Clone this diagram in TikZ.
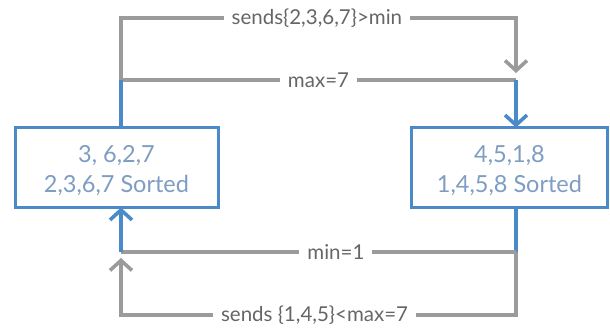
\documentclass[tikz,border=0pt]{standalone}
\usepackage{fontspec}
\setmainfont{Lato}
\usetikzlibrary{arrows.meta}
\definecolor{lineblue}{HTML}{4A8AC8}
\definecolor{linegray}{HTML}{9B9B9B}
\definecolor{labgray}{HTML}{666666}
\definecolor{boxtext}{HTML}{7E9DC2}
\begin{document}
\begin{tikzpicture}[x=1pt,y=-1pt,
  box/.style={draw=lineblue, line width=3pt, fill=white, inner sep=0pt},
  boxlabel/.style={align=center, text=boxtext, font=\fontsize{23.5}{30}\selectfont, inner sep=0pt},
  lbl/.style={fill=white, text=labgray, font=\fontsize{20.5}{24}\selectfont, inner xsep=8pt, inner ysep=1pt},
  gline/.style={draw=linegray, line width=3.2pt},
  bline/.style={draw=lineblue, line width=3.2pt},
  tip/.style={-{Straight Barb[length=10pt,width=22pt,line width=3.6pt]}}]
\useasboundingbox (0,0) rectangle (610,327);
\node[box, minimum width=203pt, minimum height=80pt] (L) at (116.5,167.5) {};
\node[box, minimum width=196pt, minimum height=80pt] (R) at (509.5,167.5) {};
\node[boxlabel] (Lt) at ([yshift=-3pt]L.center) {3, 6,2,7\\2,3,6,7 Sorted};
\node[boxlabel] (Rt) at ([yshift=-3pt]R.center) {4,5,1,8\\1,4,5,8 Sorted};
\coordinate (TL) at (121,18);
\coordinate (TR) at (516,18);
\coordinate (ML) at (121,80);
\coordinate (MR) at (516,80);
\coordinate (GA1) at (516,73);
\coordinate (BL1) at (121,252);
\coordinate (BR1) at (516,252);
\coordinate (BL2) at (121,315);
\coordinate (BR2) at (516,315);
\coordinate (GA2) at (121,258);
% top loop
\draw[gline, tip] (ML) -- (TL) -- node[lbl, pos=0.496] {sends\{2,3,6,7\}>min} (TR) -- (GA1);
\draw[gline] (ML) -- node[lbl] {max=7} (MR);
\draw[bline] (ML |- L.north) -- (ML);
\draw[bline, tip] (MR) -- ([yshift=-1.5pt]MR |- R.north);
% bottom loop
\draw[bline] (BR1 |- R.south) -- (BR1);
\draw[gline] (BR1) -- node[lbl, pos=0.456] {min=1} (BL1);
\draw[bline, tip] (BL1) -- ([yshift=1.5pt]BL1 |- L.south);
\draw[gline, tip] (BR1) -- (BR2) -- node[lbl, pos=0.51] {sends \{1,4,5\}<max=7} (BL2) -- (GA2);
\end{tikzpicture}
\end{document}
